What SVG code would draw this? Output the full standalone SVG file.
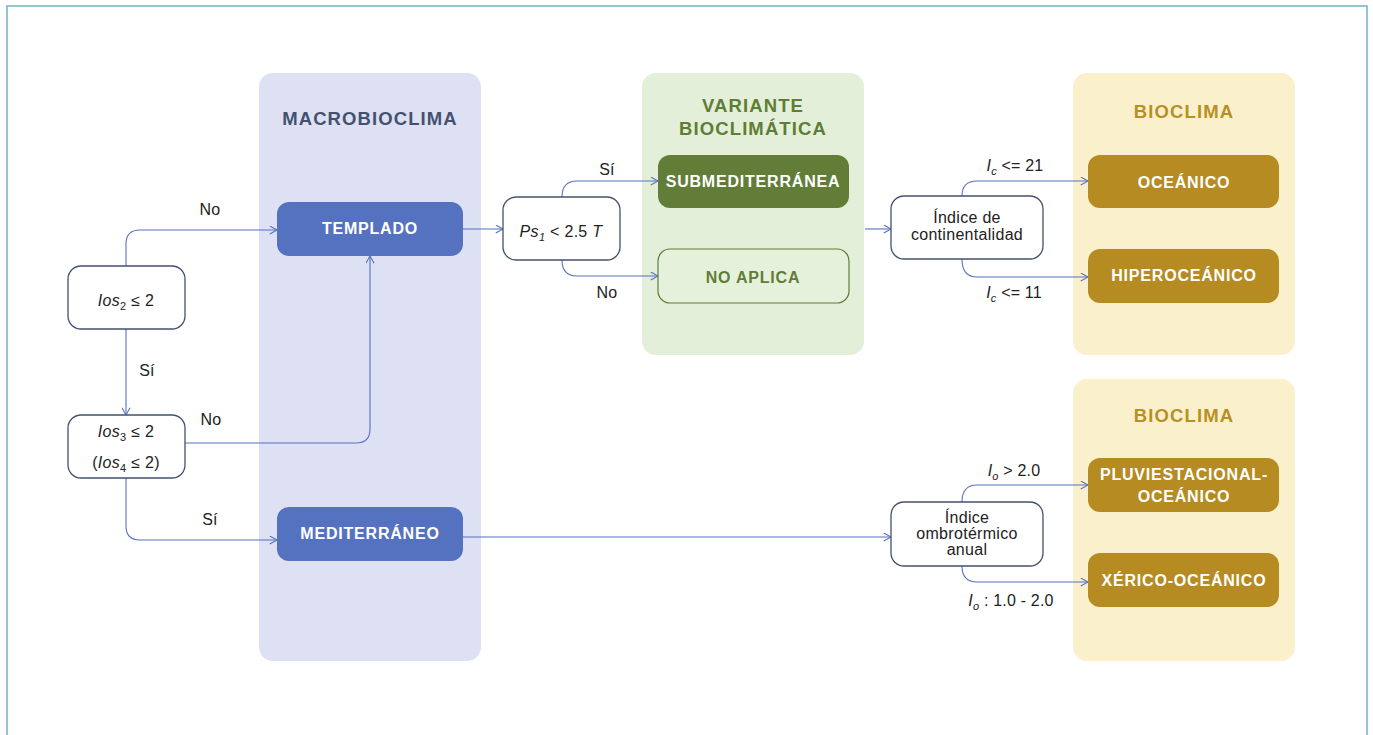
<svg xmlns="http://www.w3.org/2000/svg" width="1373" height="735" viewBox="0 0 1373 735">
<defs>
<style>
.frame{fill:#fff;stroke:#72b3c2;stroke-width:1.5}
.panel-m{fill:#dde1f3}
.panel-v{fill:#e3efd8}
.panel-b{fill:#faf0cc}
.title{font-family:"Liberation Sans",Arial,sans-serif;font-weight:bold;font-size:18.5px;letter-spacing:1.1px;text-anchor:middle}
.btn{font-family:"Liberation Sans",Arial,sans-serif;font-weight:bold;font-size:16px;letter-spacing:0.8px;text-anchor:middle;fill:#fff}
.blue{fill:#5572c0}
.green{fill:#617d37}
.gold{fill:#b58b22}
.dec{fill:#fff;stroke:#44516e;stroke-width:1.3}
.txt{font-family:"Liberation Sans",Arial,sans-serif;font-size:16px;letter-spacing:0.3px;text-anchor:middle;fill:#222}
.lbl{font-family:"Liberation Sans",Arial,sans-serif;font-size:16px;letter-spacing:0.2px;text-anchor:middle;fill:#222}
.con{fill:none;stroke:#5572c0;stroke-width:1.1}
.it{font-style:italic}
.sub{font-size:11px}
</style>
<marker id="arr" viewBox="0 0 10 10" refX="9" refY="5" markerWidth="9" markerHeight="9" markerUnits="userSpaceOnUse" orient="auto">
<path d="M1,0.5 L9,5 L1,9.5" fill="none" stroke="#5572c0" stroke-width="1.2"/>
</marker>
</defs>
<rect class="frame" x="7" y="6" width="1360" height="800"/>

<g id="panel-macrobioclima">
<rect class="panel-m" x="259" y="73" width="222" height="588" rx="14"/>
<text class="title" x="370" y="125" fill="#44516e">MACROBIOCLIMA</text>
</g>
<g id="panel-variante">
<rect class="panel-v" x="642" y="73" width="222" height="282" rx="14"/>
<text class="title" x="753" y="112" fill="#5e7d35">VARIANTE</text>
<text class="title" x="753" y="135" fill="#5e7d35">BIOCLIMÁTICA</text>
</g>
<g id="panel-bioclima-1">
<rect class="panel-b" x="1073" y="73" width="222" height="282" rx="14"/>
<text class="title" x="1184" y="118" fill="#b8901e">BIOCLIMA</text>
</g>
<g id="panel-bioclima-2">
<rect class="panel-b" x="1073" y="379" width="222" height="282" rx="14"/>
<text class="title" x="1184" y="422" fill="#b8901e">BIOCLIMA</text>
</g>

<g id="connectors">
<path class="con" d="M126,266 V244 Q126,230 140,230 H277" marker-end="url(#arr)"/>
<path class="con" d="M126,329 V415" marker-end="url(#arr)"/>
<path class="con" d="M185,443 H356 Q370,443 370,429 V256" marker-end="url(#arr)"/>
<path class="con" d="M126,478 V526 Q126,540 140,540 H277" marker-end="url(#arr)"/>
<path class="con" d="M463,229 H503" marker-end="url(#arr)"/>
<path class="con" d="M562,197 Q562,181 577,181 H658" marker-end="url(#arr)"/>
<path class="con" d="M562,260 Q562,276 577,276 H658" marker-end="url(#arr)"/>
<path class="con" d="M865,229 H891" marker-end="url(#arr)"/>
<path class="con" d="M962,196 Q962,181 977,181 H1088" marker-end="url(#arr)"/>
<path class="con" d="M962,259 Q962,277 977,277 H1088" marker-end="url(#arr)"/>
<path class="con" d="M463,537 H891" marker-end="url(#arr)"/>
<path class="con" d="M962,502 Q962,485 977,485 H1088" marker-end="url(#arr)"/>
<path class="con" d="M962,566 Q962,582 977,582 H1088" marker-end="url(#arr)"/>
<text class="lbl" x="210" y="215">No</text>
<text class="lbl" x="147" y="376">Sí</text>
<text class="lbl" x="211" y="425">No</text>
<text class="lbl" x="210" y="525">Sí</text>
<text class="lbl" x="607" y="175">Sí</text>
<text class="lbl" x="607" y="298">No</text>
<text class="lbl" x="1015" y="171"><tspan class="it">I</tspan><tspan class="it sub" dy="4">c</tspan><tspan dy="-4"> &lt;= 21</tspan></text>
<text class="lbl" x="1014" y="298"><tspan class="it">I</tspan><tspan class="it sub" dy="4">c</tspan><tspan dy="-4"> &lt;= 11</tspan></text>
<text class="lbl" x="1014" y="476"><tspan class="it">I</tspan><tspan class="it sub" dy="4">o</tspan><tspan dy="-4"> &gt; 2.0</tspan></text>
<text class="lbl" x="1011" y="606"><tspan class="it">I</tspan><tspan class="it sub" dy="4">o</tspan><tspan dy="-4"> : 1.0 - 2.0</tspan></text>
</g>

<g id="node-ios2">
<rect class="dec" x="68" y="266" width="117" height="63" rx="13"/>
<text class="txt" x="126" y="306"><tspan class="it">Ios</tspan><tspan class="sub" dy="4">2</tspan><tspan dy="-4"> ≤ 2</tspan></text>
</g>
<g id="node-ios3">
<rect class="dec" x="68" y="415" width="117" height="63" rx="13"/>
<text class="txt" x="126" y="437"><tspan class="it">Ios</tspan><tspan class="sub" dy="4">3</tspan><tspan dy="-4"> ≤ 2</tspan></text>
<text class="txt" x="126" y="468">(<tspan class="it">Ios</tspan><tspan class="sub" dy="4">4</tspan><tspan dy="-4"> ≤ 2)</tspan></text>
</g>
<g id="node-templado">
<rect class="blue" x="277" y="202" width="186" height="54" rx="12"/>
<text class="btn" x="370" y="234">TEMPLADO</text>
</g>
<g id="node-mediterraneo">
<rect class="blue" x="277" y="507" width="186" height="54" rx="12"/>
<text class="btn" x="370" y="539">MEDITERRÁNEO</text>
</g>
<g id="node-ps1">
<rect class="dec" x="503" y="197" width="117" height="63" rx="13"/>
<text class="txt" x="561" y="237"><tspan class="it">Ps</tspan><tspan class="it sub" dy="4">1</tspan><tspan dy="-4"> &lt; 2.5 </tspan><tspan class="it">T</tspan></text>
</g>
<g id="node-submediterranea">
<rect class="green" x="658" y="155" width="191" height="53" rx="12"/>
<text class="btn" x="753" y="187">SUBMEDITERRÁNEA</text>
</g>
<g id="node-no-aplica">
<rect x="658" y="249" width="191" height="54" rx="12" fill="#e6f1dc" stroke="#617d37" stroke-width="1.2"/>
<text class="btn" x="753" y="283" style="fill:#617d37">NO APLICA</text>
</g>
<g id="node-continentalidad">
<rect class="dec" x="891" y="196" width="152" height="63" rx="13"/>
<text class="txt" x="967" y="223">Índice de</text>
<text class="txt" x="967" y="240">continentalidad</text>
</g>
<g id="node-oceanico">
<rect class="gold" x="1088" y="155" width="191" height="53" rx="12"/>
<text class="btn" x="1184" y="188">OCEÁNICO</text>
</g>
<g id="node-hiperoceanico">
<rect class="gold" x="1088" y="249" width="191" height="54" rx="12"/>
<text class="btn" x="1184" y="281">HIPEROCEÁNICO</text>
</g>
<g id="node-ombrotermico">
<rect class="dec" x="891" y="502" width="152" height="64" rx="13"/>
<text class="txt" x="967" y="523">Índice</text>
<text class="txt" x="967" y="539">ombrotérmico</text>
<text class="txt" x="967" y="555">anual</text>
</g>
<g id="node-pluviestacional">
<rect class="gold" x="1088" y="458" width="191" height="54" rx="12"/>
<text class="btn" x="1184" y="480">PLUVIESTACIONAL-</text>
<text class="btn" x="1184" y="502">OCEÁNICO</text>
</g>
<g id="node-xerico">
<rect class="gold" x="1088" y="553" width="191" height="54" rx="12"/>
<text class="btn" x="1184" y="586">XÉRICO-OCEÁNICO</text>
</g>
</svg>
